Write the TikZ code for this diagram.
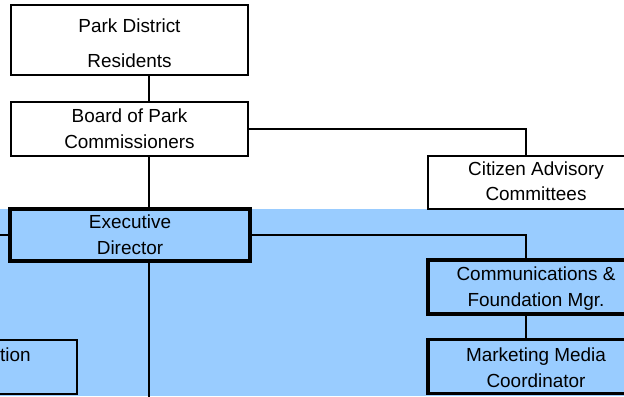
\documentclass[tikz,border=0pt]{standalone}
\usepackage{fontspec}
\setmainfont{Liberation Sans}
\definecolor{bgblue}{HTML}{99CCFF}
\begin{document}
\begin{tikzpicture}[x=1bp,y=-1bp,
  orgbox/.style 2 args={rectangle,draw=black,inner sep=0pt,minimum width=#1 bp,minimum height=#2 bp},
  thinbox/.style={line width=1.6bp,fill=white},
  thickbox/.style={line width=3.2bp,fill=bgblue},
  conn/.style={draw=black,line width=1.6bp},
  txt/.style={inner sep=0pt,anchor=base,font=\fontsize{19}{23}\selectfont}]
\useasboundingbox (0,0) rectangle (624,396);
\clip (0,0) rectangle (624,396);
\fill[bgblue] (0,209) rectangle (624,396);
% boxes
\node[orgbox={237}{70},thinbox] (res) at (129.5,40) {};
\node[orgbox={237}{54},thinbox] (board) at (129.5,129) {};
\node[orgbox={216}{53},thinbox] (cit) at (536,182.5) {};
\node[orgbox={240}{52},thickbox] (exec) at (130,235) {};
\node[orgbox={216}{54},thickbox] (comm) at (536,287) {};
\node[orgbox={216}{54},thickbox] (mkt) at (536,366.5) {};
\node[orgbox={237}{54},thinbox,fill=bgblue] (lbox) at (-41.5,367) {};
% connector free ends
\coordinate (leftend) at (-2,235);
\coordinate (bottomend) at (149,400);
% connectors
\draw[conn] ([xshift=19.5bp]res.south) -- ([xshift=19.5bp]board.north);
\draw[conn] (board.east) -| ([xshift=-10bp]cit.north);
\draw[conn] ([xshift=19.5bp]board.south) -- ([xshift=19bp]exec.north);
\draw[conn] (exec.west) -- (leftend);
\draw[conn] (exec.east) -| ([xshift=-10bp]comm.north);
\draw[conn] ([xshift=-10bp]comm.south) -- ([xshift=-10bp]mkt.north);
\draw[conn] ([xshift=19bp]exec.south) -- (bottomend);
% texts
\node[txt] (resA) at (129.5,32) {Park District};
\node[txt] (resB) at (129.5,67) {Residents};
\node[txt] (boardA) at (129.5,122.5) {Board of Park};
\node[txt] (boardB) at (129.5,148) {Commissioners};
\node[txt] (citA) at (536,175.5) {Citizen Advisory};
\node[txt] (citB) at (536,200.5) {Committees};
\node[txt] (execA) at (130,228.5) {Executive};
\node[txt] (execB) at (130,254) {Director};
\node[txt] (commA) at (536,280.5) {Communications \&};
\node[txt] (commB) at (536,306.5) {Foundation Mgr.};
\node[txt] (mktA) at (536,361) {Marketing Media};
\node[txt] (mktB) at (536,387) {Coordinator};
\node[txt,anchor=base west] (lboxA) at (0,361) {tion};
\end{tikzpicture}
\end{document}
